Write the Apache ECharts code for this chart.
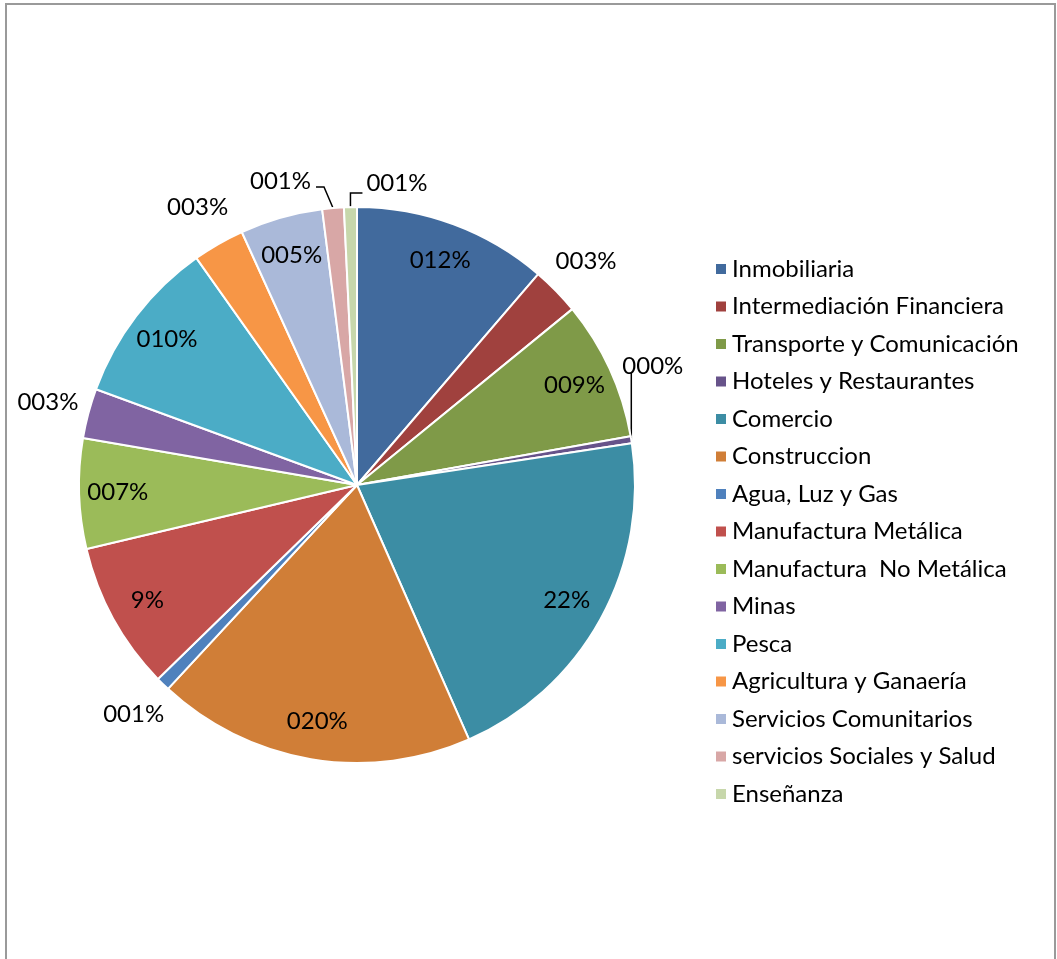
<!DOCTYPE html>
<html>
<head>
<meta charset="utf-8">
<script src="https://cdn.jsdelivr.net/npm/echarts@6/dist/echarts.min.js"></script>
<style>
  html, body { margin: 0; padding: 0; background: #fff; }
  #chart { width: 1057px; height: 959px; }
</style>
</head>
<body>
<div id="chart"></div>
<script>
const sectors = ['Inmobiliaria', 'Intermediación Financiera', 'Transporte y Comunicación', 'Hoteles y Restaurantes',
  'Comercio', 'Construccion', 'Agua, Luz y Gas', 'Manufactura Metálica', 'Manufactura  No Metálica', 'Minas',
  'Pesca', 'Agricultura y Ganaería', 'Servicios Comunitarios', 'servicios Sociales y Salud', 'Enseñanza']
const shares = [11.3, 2.8, 8.1, 0.4, 20.8, 18.5, 0.8, 8.6, 6.4, 2.9, 9.6, 3.0, 4.8, 1.25, 0.75]
// the labels as printed on the original chart
const shownLabels = ['012%', '003%', '009%', '000%', '22%', '020%', '001%', '9%', '007%', '003%', '010%', '003%', '005%', '001%', '001%']
// where each label sits: inside the slice, just outside, or outside with a leader line
const labelPlace = ['in', 'out', 'in', 'line', 'in', 'in', 'out', 'in', 'in', 'out', 'in', 'out', 'in', 'line', 'line']
const colors = ['#416a9d', '#a0413e', '#7f9a48', '#67538a', '#3c8da4', '#d07e37', '#4f81bd', '#c0504d',
  '#9bbb59', '#8064a2', '#4bacc6', '#f79646', '#aab9d9', '#d8a7a6', '#c7d7ab']

const font = 'Lato, "Open Sans", sans-serif'
const cx = 357, cy = 485, R = 278

const chart = echarts.init(document.getElementById('chart'))

function pieData(place) {
  return sectors.map((name, i) => ({
    name: name,
    value: shares[i],
    label: {show: labelPlace[i] === place, formatter: shownLabels[i]}
  }))
}

// leader line shapes, relative to the point where the line leaves the slice
const leader = {
  3: {pts: [[0, -67], [0, -67]], lx: -9, ly: -74, align: 'left'},
  13: {pts: [[-9, -21], [-17, -21]], lx: -22, ly: -27, align: 'right'},
  14: {pts: [[0, -14], [12, -14]], lx: 16, ly: -24, align: 'left'}
}

const textStyle = {fontFamily: font, fontSize: 24, color: '#000'}

chart.setOption({
  animation: false,
  color: colors,
  graphic: [{
    type: 'rect',
    shape: {x: 6, y: 4, width: 1049, height: 1000},
    style: {fill: 'none', stroke: '#9a9a9a', lineWidth: 2},
    silent: true
  }],
  legend: {
    orient: 'vertical',
    left: 714,
    top: 257,
    padding: 0,
    icon: 'rect',
    itemWidth: 12,
    itemHeight: 12,
    itemGap: 13.5,
    itemTextGap: 8,
    data: sectors,
    textStyle: Object.assign({lineHeight: 24}, textStyle)
  },
  series: [
    {
      type: 'pie',
      center: [cx, cy],
      radius: R,
      startAngle: 90,
      clockwise: true,
      avoidLabelOverlap: false,
      itemStyle: {borderColor: '#fff', borderWidth: 2},
      emphasis: {disabled: true},
      label: Object.assign({position: 'outside', distanceToLabelLine: 0}, textStyle),
      labelLine: {show: true, length: 10, length2: 10, lineStyle: {color: '#000', width: 1.5}},
      labelLayout: function (params) {
        const l = leader[params.dataIndex]
        if (!l || !params.labelLinePoints) return {}
        const p = params.labelLinePoints[0]
        return {
          x: p[0] + l.lx,
          y: p[1] + l.ly,
          align: l.align,
          verticalAlign: 'middle',
          labelLinePoints: [p, [p[0] + l.pts[0][0], p[1] + l.pts[0][1]], [p[0] + l.pts[1][0], p[1] + l.pts[1][1]]]
        }
      },
      data: pieData('line')
    },
    {
      // transparent ring carrying the labels printed inside the slices
      type: 'pie',
      center: [cx, cy],
      radius: [R * 0.7, R],
      startAngle: 90,
      silent: true,
      avoidLabelOverlap: false,
      itemStyle: {color: 'rgba(0,0,0,0)', borderWidth: 0},
      label: Object.assign({position: 'inside'}, textStyle),
      labelLine: {show: false},
      data: pieData('in')
    },
    {
      // transparent ring outside the pie for the small slices' labels
      type: 'pie',
      center: [cx, cy],
      radius: [R * 1.08, R * 1.2],
      startAngle: 90,
      silent: true,
      avoidLabelOverlap: false,
      itemStyle: {color: 'rgba(0,0,0,0)', borderWidth: 0},
      label: Object.assign({position: 'inside'}, textStyle),
      labelLine: {show: false},
      data: pieData('out')
    }
  ]
})
</script>
</body>
</html>
